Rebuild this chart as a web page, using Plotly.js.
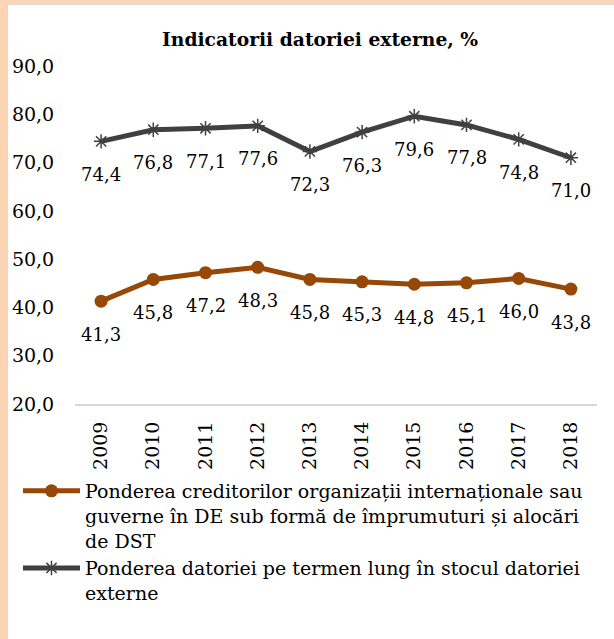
<!DOCTYPE html>
<html>
<head>
<meta charset="utf-8">
<script src="https://cdn.plot.ly/plotly-3.0.1.min.js"></script>
<style>
html,body{margin:0;padding:0;background:#FCD5B4;width:614px;height:639px;overflow:hidden;}
#wrap{position:absolute;left:7px;top:4px;width:607px;height:635px;background:#fff;border-left:1px solid #d9d9d9;border-top:1px solid #d9d9d9;}
#chart{width:606px;height:634px;}
</style>
</head>
<body>
<div id="wrap"><div id="chart"></div></div>
<script>
const years = ['2009','2010','2011','2012','2013','2014','2015','2016','2017','2018'];
const creditori = [41.3, 45.8, 47.2, 48.3, 45.8, 45.3, 44.8, 45.1, 46.0, 43.8];
const termenLung = [74.4, 76.8, 77.1, 77.6, 72.3, 76.3, 79.6, 77.8, 74.8, 71.0];
const name1 = 'Ponderea creditorilor organizații internaționale sau<br>guverne în DE sub formă de împrumuturi și alocări<br>de DST';
const name2 = 'Ponderea datoriei pe termen lung în stocul datoriei<br>externe';
const titleText = '<b>Indicatorii datoriei externe, %</b>';

const FONT = 'DejaVu Serif, serif';
const fmt = v => v.toFixed(1).replace('.', ',');
const xs = years.map(Number);

const traces = [
  {x: xs, y: creditori, name: name1, type: 'scatter', mode: 'lines+markers',
   line: {color: '#974706', width: 5}, marker: {symbol: 'circle', size: 13, color: '#974706'}},
  {x: xs, y: termenLung, name: name2, type: 'scatter', mode: 'lines+markers',
   line: {color: '#404040', width: 5}, marker: {symbol: 'asterisk-open', size: 12, color: '#404040', line: {color: '#404040', width: 1.5}}}
];

const annotations = [];
[creditori, termenLung].forEach(arr => {
  arr.forEach((v, i) => annotations.push({
    x: xs[i], y: v, xref: 'x', yref: 'y', text: fmt(v), showarrow: false,
    yshift: -33, font: {family: FONT, size: 18, color: '#000'}
  }));
});

const layout = {
  width: 606, height: 634,
  margin: {l: 67, r: 17, t: 61, b: 235, autoexpand: false},
  paper_bgcolor: '#fff', plot_bgcolor: '#fff',
  title: {text: titleText, font: {family: FONT, size: 18.7, color: '#000'}, xref: 'container', x: 0.515, xanchor: 'center', y: 0.945, yanchor: 'middle'},
  separators: ',.',
  xaxis: {type: 'linear', range: [xs[0] - 0.5, xs[xs.length - 1] + 0.5], tickvals: xs, ticktext: years,
    showgrid: false, zeroline: false, showline: true, linecolor: '#d9d9d9', linewidth: 2,
    tickangle: -90, ticks: 'outside', ticklen: 8, tickcolor: 'rgba(0,0,0,0)',
    tickfont: {family: FONT, size: 19, color: '#000'}},
  yaxis: {range: [20, 90], dtick: 10, tick0: 20, tickformat: '.1f', showgrid: false, zeroline: false, showline: false,
    ticks: 'outside', ticklen: 16, tickcolor: 'rgba(0,0,0,0)',
    tickfont: {family: FONT, size: 19, color: '#000'}},
  showlegend: true,
  legend: {orientation: 'v', xref: 'container', yref: 'container', x: 0.0165, xanchor: 'left', y: 0.2634, yanchor: 'top',
    itemwidth: 57, valign: 'top',
    font: {family: FONT, size: 19, color: '#000'}, tracegroupgap: 0, bgcolor: 'rgba(0,0,0,0)'},
  annotations: annotations
};

Plotly.newPlot('chart', traces, layout, {displayModeBar: false, staticPlot: true});
</script>
</body>
</html>
